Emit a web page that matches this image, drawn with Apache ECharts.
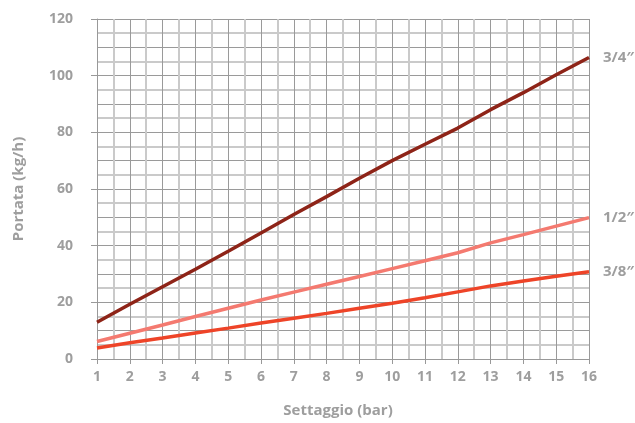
<!DOCTYPE html>
<html>
<head>
<meta charset="utf-8">
<script src="https://cdn.jsdelivr.net/npm/echarts@6/dist/echarts.min.js"></script>
<style>
  html, body { margin: 0; padding: 0; background: #fff; }
  #chart { width: 635px; height: 423px; }
</style>
</head>
<body>
<div id="chart"></div>
<script>
// pressione di taratura (bar)
var settaggio = [1, 2, 3, 4, 5, 6, 7, 8, 9, 10, 11, 12, 13, 14, 15, 16];
// portata (kg/h) per attacco
var portata34 = [13, 19.3, 25.5, 31.7, 38, 44.5, 51, 57.3, 63.8, 70, 75.8, 81.5, 88, 94, 100.3, 106.4];
var portata12 = [6.2, 9.1, 12, 15, 17.9, 20.8, 23.6, 26.4, 29.1, 31.9, 34.7, 37.5, 41, 43.9, 46.9, 49.9];
var portata38 = [3.9, 5.7, 7.4, 9.2, 10.9, 12.7, 14.4, 16.1, 17.9, 19.7, 21.6, 23.7, 25.8, 27.5, 29.2, 30.8];
var nomi = ['3/4″', '1/2″', '3/8″'];
var colori = ['#8e2418', '#f47a70', '#ee4428'];

var grigio = '#9e9e9e';
var font = { fontFamily: 'Open Sans', fontWeight: 'bold', fontSize: 14, color: grigio };
var fontNome = { fontFamily: 'Open Sans', fontWeight: 'bold', fontSize: 15, color: grigio };

function coppie(vals) {
  return settaggio.map(function (x, i) { return [x, vals[i]]; });
}

var myChart = echarts.init(document.getElementById('chart'));
var serie = [portata34, portata12, portata38].map(function (vals, i) {
  return {
    name: nomi[i],
    type: 'line',
    data: coppie(vals),
    showSymbol: false,
    silent: true,
    lineStyle: { color: colori[i], width: 3.5 },
    endLabel: {
      show: true,
      formatter: '{a}',
      distance: 14,
      fontFamily: 'Open Sans',
      fontWeight: 'bold',
      fontSize: 15,
      color: grigio
    },
    z: 5 - i
  };
});

myChart.setOption({
  animation: false,
  grid: { left: 97, right: 46, top: 19, bottom: 63 },
  xAxis: {
    type: 'value',
    min: 1,
    max: 16,
    interval: 1,
    name: 'Settaggio (bar)',
    nameLocation: 'middle',
    nameGap: 44,
    nameTextStyle: Object.assign({ padding: [0, 10, 0, 0] }, fontNome),
    axisLine: { show: true, lineStyle: { color: '#999', width: 1 } },
    axisTick: { show: true, length: 5, lineStyle: { color: '#999' } },
    axisLabel: Object.assign({ margin: 11 }, font),
    splitLine: { show: true, lineStyle: { color: '#9a9a9a', width: 1 } },
    minorTick: { show: false, splitNumber: 2 },
    minorSplitLine: { show: true, lineStyle: { color: '#cacaca', width: 2 } }
  },
  yAxis: [
    {
      type: 'value',
      min: 0,
      max: 120,
      interval: 10,
      axisLine: { show: false },
      axisTick: { show: false },
      axisLabel: { show: false },
      splitLine: { show: true, lineStyle: { color: '#9a9a9a', width: 1 } },
      minorTick: { show: false, splitNumber: 2 },
      minorSplitLine: { show: true, lineStyle: { color: '#cacaca', width: 2 } }
    },
    {
      type: 'value',
      position: 'left',
      min: 0,
      max: 120,
      interval: 20,
      name: 'Portata (kg/h)',
      nameLocation: 'middle',
      nameGap: 71,
      nameTextStyle: fontNome,
      axisLine: { show: true, lineStyle: { color: '#999', width: 1 } },
      axisTick: { show: true, length: 6, lineStyle: { color: '#999' } },
      axisLabel: Object.assign({ margin: 24 }, font),
      splitLine: { show: false }
    }
  ],
  series: serie
});
</script>
</body>
</html>
